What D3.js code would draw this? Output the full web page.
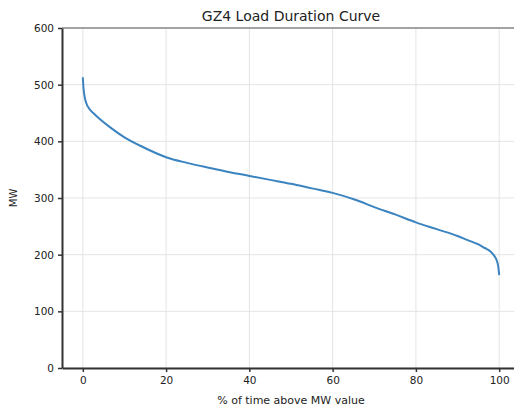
<!DOCTYPE html>
<meta charset="utf-8">
<style>
  body { margin:0; background:#fff; overflow:hidden; }
  text { font-family: "DejaVu Sans", sans-serif; fill:#222; }
</style>
<svg width="514" height="413"></svg>
<script src="https://d3js.org/d3.v7.min.js"></script>
<script>
// load duration curve
var pctTime = [0, 0.15, 0.4, 0.8, 1.5, 2.5, 4, 6.5, 10, 14.4, 20, 25, 30.5, 35, 40, 45, 50, 55, 60, 65.8, 70, 75, 80, 85, 90, 92.3, 95, 96.2, 97, 98, 99, 99.5, 99.8, 100];
var mwValue = [513, 495, 480, 468, 458, 450, 440, 425, 407, 390, 372, 362, 353, 346, 339, 332, 325, 317, 309, 296, 284, 271, 257, 245, 233, 226, 218, 213, 210, 205, 196, 188, 178, 164];
var xTicks = [0, 20, 40, 60, 80, 100];
var yTicks = [0, 100, 200, 300, 400, 500, 600];

var svg = d3.select("svg"),
    margin = {top: 28, left: 62, bottom: 45},
    plotRight = 520,
    height = +svg.attr("height");

var x = d3.scaleLinear().domain([-5, 105]).range([margin.left, plotRight]);
var y = d3.scaleLinear().domain([0, 600]).range([height - margin.bottom, margin.top]);

var g = svg.append("g");

// grid
g.append("g").selectAll("line").data(xTicks).enter().append("line")
    .attr("x1", x).attr("x2", x)
    .attr("y1", y(0)).attr("y2", y(600))
    .attr("stroke", "#e4e4e4").attr("stroke-width", 1);
g.append("g").selectAll("line").data(yTicks).enter().append("line")
    .attr("y1", y).attr("y2", y)
    .attr("x1", x(-5)).attr("x2", x(105))
    .attr("stroke", "#e4e4e4").attr("stroke-width", 1);

// top frame
g.append("line").attr("x1", x(-5)).attr("x2", x(105)).attr("y1", y(600)).attr("y2", y(600))
    .attr("stroke", "#888").attr("stroke-width", 1.5);

var line = d3.line()
    .x(function(d, i) { return x(pctTime[i]); })
    .y(function(d) { return y(d); })
    .curve(d3.curveMonotoneX);

g.append("path")
    .datum(mwValue)
    .attr("fill", "none")
    .attr("stroke", "#3c84c0")
    .attr("stroke-width", 2)
    .attr("d", line);

var xAxis = g.append("g")
    .attr("transform", "translate(0," + y(0) + ")")
    .call(d3.axisBottom(x).tickValues(xTicks).tickSize(4).tickSizeOuter(0).tickPadding(5).tickFormat(d3.format("d")));
var yAxis = g.append("g")
    .attr("transform", "translate(" + x(-5) + ",0)")
    .call(d3.axisLeft(y).tickValues(yTicks).tickSize(4).tickSizeOuter(0).tickPadding(4).tickFormat(d3.format("d")));

[xAxis, yAxis].forEach(function(a) {
  a.select(".domain").attr("stroke", "#333").attr("stroke-width", 2);
  a.selectAll(".tick line").attr("stroke", "#333").attr("stroke-width", 1.5);
  a.selectAll(".tick text").style("font-size", "10.5px").attr("fill", "#222");
});

svg.append("text")
    .attr("x", 291).attr("y", 21)
    .attr("text-anchor", "middle")
    .style("font-size", "14px")
    .text("GZ4 Load Duration Curve");

svg.append("text")
    .attr("x", 291).attr("y", 404)
    .attr("text-anchor", "middle")
    .style("font-size", "11px")
    .text("% of time above MW value");

svg.append("text")
    .attr("transform", "translate(17," + y(300) + ")rotate(-90)")
    .attr("text-anchor", "middle")
    .style("font-size", "10px")
    .text("MW");
</script>
